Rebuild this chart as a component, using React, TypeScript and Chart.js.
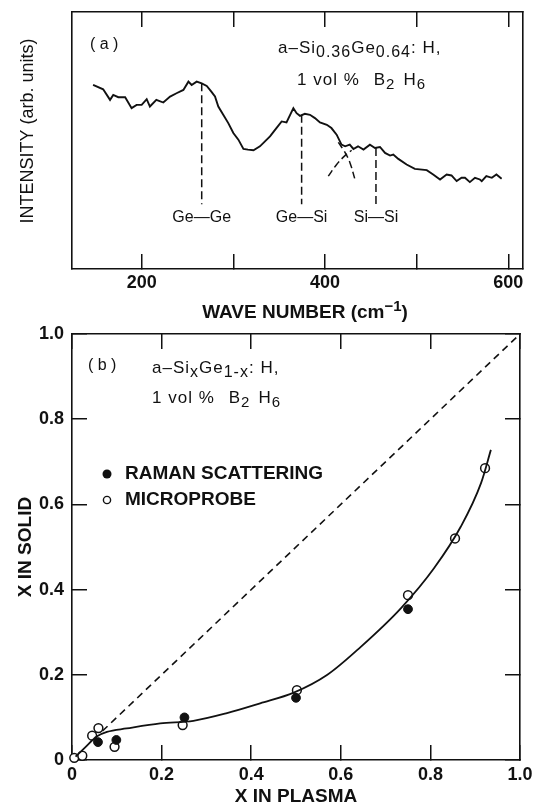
import React, { useEffect, useRef } from "react";
import { Chart, registerables } from "chart.js";

Chart.register(...registerables);

// ---------- Panel (a): Raman spectrum ----------
const waveNumber = [
  147, 158, 165.5, 169, 174.5, 182, 189, 194.5, 200, 205.5, 209, 216, 223.6, 231, 238, 245.5, 251, 254.5,
  260, 265.5, 271, 276, 280, 283.6, 289, 294.5, 300, 305.5, 311, 316, 322, 329, 334.5, 340, 347, 352.7,
  358, 365.5, 369, 372.7, 378, 383.6, 389, 394.5, 402, 407, 412.7, 418, 422, 427, 431, 436, 442, 449,
  454.5, 460, 465.5, 471, 474.5, 480, 489, 498, 511, 518, 525.5, 532.7, 538, 543.6, 549, 552.7, 558,
  563.6, 569, 571, 576, 582, 587, 592.7,
];
const intensity = [
  55.5, 54.2, 51, 52.5, 51.8, 51.8, 48.5, 49.5, 49.5, 51.2, 49, 51, 50.2, 52, 53, 54, 56.5, 55.5,
  56.5, 56, 55.2, 53.5, 52, 49, 46.5, 44, 41, 39, 36.2, 36, 35.8, 37, 38.5, 40, 42.5, 44.5,
  44.2, 48.5, 47, 46.2, 46.8, 46.5, 45.5, 44.2, 43.5, 42.5, 40.5, 37.5, 37, 37.5, 36.2, 37, 36, 37.5,
  36.5, 36.8, 35, 34.2, 34.5, 33.2, 31.5, 30.2, 29.8, 28.5, 27, 28.5, 28.2, 26.5, 27.5, 27.5, 26.2,
  27.5, 27, 26.5, 28, 27.5, 28.5, 27.2,
];
const peakNames = ["Ge\u2014Ge", "Ge\u2014Si", "Si\u2014Si"];
const peakWave = [265.5, 374.5, 455.6];
const peakTop = [56, 46.5, 36.5];
const peakLineBottom = 19.5;
const siShoulderX = [403.6, 412.7, 421.8, 429];
const siShoulderY = [28, 31.5, 34.2, 35.8];
const geSiShoulderX = [414.5, 421.8, 427.3, 432.7];
const geSiShoulderY = [38.2, 35.2, 32, 27];
const waveTicks = [200, 300, 400, 500, 600];
const waveTickLabels = ["200", "", "400", "", "600"];
const waveMin = 124;
const waveMax = 616;
const intensityMin = 0;
const intensityMax = 77.5;

// ---------- Panel (b): composition ----------
const ramanX = [0.058, 0.099, 0.251, 0.5, 0.75];
const ramanY = [0.042, 0.047, 0.1, 0.146, 0.354];
const probeX = [0.005, 0.023, 0.045, 0.059, 0.095, 0.247, 0.502, 0.75, 0.855, 0.922];
const probeY = [0.005, 0.01, 0.057, 0.075, 0.031, 0.082, 0.164, 0.387, 0.52, 0.685];
const fitX = [0.008, 0.03, 0.055, 0.078, 0.122, 0.197, 0.271, 0.346, 0.42, 0.495, 0.57, 0.644, 0.734, 0.808, 0.868, 0.913, 0.935];
const fitY = [0.008, 0.03, 0.055, 0.066, 0.074, 0.086, 0.092, 0.11, 0.133, 0.158, 0.2, 0.265, 0.356, 0.45, 0.548, 0.65, 0.728];
const equalX = [0.068, 1.0];
const equalY = [0.068, 1.0];
const fracTicks = [0, 0.2, 0.4, 0.6, 0.8, 1.0];
const fracTickLabels = ["0", "0.2", "0.4", "0.6", "0.8", "1.0"];

const FAMILY = '"Liberation Sans", Arial, Helvetica, sans-serif';
const INK = "#111";

type Seg = { t?: string; sub?: boolean; sup?: boolean; gap?: number };

function drawRich(
  ctx: CanvasRenderingContext2D,
  segs: Seg[],
  x: number,
  y: number,
  size: number,
  smallSize: number,
  shift: number,
  weight = "normal",
  spacing = "1px"
) {
  let cx = x;
  (ctx as any).letterSpacing = spacing;
  ctx.textAlign = "left";
  ctx.textBaseline = "middle";
  for (const s of segs) {
    if (s.gap) {
      cx += s.gap;
      continue;
    }
    const small = s.sub || s.sup;
    ctx.font = `${weight} ${small ? smallSize : size}px ${FAMILY}`;
    const dy = s.sub ? shift : s.sup ? -shift : 0;
    ctx.fillText(s.t || "", cx, y + dy);
    cx += ctx.measureText(s.t || "").width;
  }
  (ctx as any).letterSpacing = "0px";
}

const pts = (xs: number[], ys: number[]) => xs.map((x, i) => ({ x, y: ys[i] }));

const tickGrid = { drawOnChartArea: false, drawTicks: true, tickLength: -15, color: INK, lineWidth: 1.5 };
const noTickGrid = { drawOnChartArea: false, drawTicks: false, color: INK, lineWidth: 1.5 };
const frame = { display: true, color: INK, width: 1.6 };
const tickFont = { family: FAMILY, size: 18, weight: "bold" as const, lineHeight: 1 };

const fixSize = (key: "width" | "height", v: number) => (s: any) => {
  s[key] = v;
  s.paddingLeft = 0;
  s.paddingRight = 0;
  s.paddingTop = 0;
  s.paddingBottom = 0;
};

const A_HEIGHT = 326;
const B_TOP = 316;
const B_HEIGHT = 806 - B_TOP;

function configA(): any {
  const annotations = {
    id: "annotationsA",
    afterDraw(chart: any) {
      const { ctx, chartArea: ca, scales } = chart;
      ctx.save();
      ctx.fillStyle = INK;
      drawRich(ctx, [{ t: "( a )" }], ca.left + 18, ca.top + 33, 16, 16, 0, "normal", "0px");
      drawRich(
        ctx,
        [{ t: "a\u2013Si" }, { t: "0.36", sub: true }, { t: "Ge" }, { t: "0.64", sub: true }, { t: ": H," }],
        ca.left + 206,
        ca.top + 36,
        17,
        16,
        5
      );
      drawRich(
        ctx,
        [{ t: "1 vol %" }, { gap: 14 }, { t: "B" }, { t: "2", sub: true }, { gap: 8 }, { t: "H" }, { t: "6", sub: true }],
        ca.left + 225,
        ca.top + 68,
        17,
        15,
        5
      );
      ctx.font = `normal 16px ${FAMILY}`;
      ctx.textAlign = "center";
      ctx.textBaseline = "middle";
      peakNames.forEach((name, i) => {
        ctx.fillText(name, scales.x.getPixelForValue(peakWave[i]), ca.bottom - 51);
      });
      // y title
      ctx.save();
      ctx.translate(28, ca.top + 119);
      ctx.rotate(-Math.PI / 2);
      ctx.font = `normal 18px ${FAMILY}`;
      ctx.textAlign = "center";
      ctx.textBaseline = "middle";
      ctx.fillText("INTENSITY (arb. units)", 0, 0);
      ctx.restore();
      // x title with superscript
      const segs: Seg[] = [{ t: "WAVE NUMBER (cm" }, { t: "\u22121", sup: true }, { t: ")" }];
      let w = 0;
      for (const s of segs) {
        ctx.font = `bold ${s.sup ? 15 : 19}px ${FAMILY}`;
        w += ctx.measureText(s.t || "").width;
      }
      drawRich(ctx, segs, 305 - w / 2, ca.bottom + 44, 19, 15, 6, "bold", "0px");
      ctx.restore();
    },
  };
  const datasets: any[] = [
    {
      data: pts(waveNumber, intensity),
      borderColor: INK,
      borderWidth: 1.9,
      pointRadius: 0,
      tension: 0,
    },
    ...peakWave.map((w, i) => ({
      data: [
        { x: w, y: peakTop[i] },
        { x: w, y: peakLineBottom },
      ],
      borderColor: INK,
      borderWidth: 1.5,
      borderDash: [8, 4],
      pointRadius: 0,
    })),
    {
      data: pts(siShoulderX, siShoulderY),
      borderColor: INK,
      borderWidth: 1.5,
      borderDash: [7, 4],
      pointRadius: 0,
      tension: 0.4,
    },
    {
      data: pts(geSiShoulderX, geSiShoulderY),
      borderColor: INK,
      borderWidth: 1.5,
      borderDash: [7, 4],
      pointRadius: 0,
      tension: 0.4,
    },
  ];
  const setTicks = (s: any) => {
    s.ticks = waveTicks.map((v) => ({ value: v }));
  };
  return {
    type: "line",
    data: { datasets },
    options: {
      responsive: false,
      animation: false,
      devicePixelRatio: 1,
      layout: { padding: { top: 12, right: 12, left: 0, bottom: 0 } },
      plugins: { legend: { display: false }, tooltip: { enabled: false } },
      scales: {
        x: {
          type: "linear",
          position: "bottom",
          min: waveMin,
          max: waveMax,
          bounds: "data",
          afterBuildTicks: setTicks,
          afterFit: fixSize("height", A_HEIGHT - 269),
          ticks: {
            autoSkip: false,
            maxRotation: 0,
            color: INK,
            font: tickFont,
            padding: 20,
            callback: (_v: any, i: number) => waveTickLabels[i],
          },
          grid: tickGrid,
          border: frame,
        },
        xTop: {
          type: "linear",
          position: "top",
          min: waveMin,
          max: waveMax,
          bounds: "data",
          afterBuildTicks: setTicks,
          afterFit: fixSize("height", 0),
          ticks: { display: false },
          grid: tickGrid,
          border: frame,
        },
        y: {
          type: "linear",
          position: "left",
          min: intensityMin,
          max: intensityMax,
          afterFit: fixSize("width", 72),
          ticks: { display: false },
          grid: noTickGrid,
          border: frame,
        },
        yRight: {
          type: "linear",
          position: "right",
          min: intensityMin,
          max: intensityMax,
          afterFit: fixSize("width", 0),
          ticks: { display: false },
          grid: noTickGrid,
          border: frame,
        },
      },
    },
    plugins: [annotations],
  };
}

function configB(): any {
  const annotations = {
    id: "annotationsB",
    afterDraw(chart: any) {
      const { ctx, chartArea: ca } = chart;
      ctx.save();
      ctx.fillStyle = INK;
      ctx.strokeStyle = INK;
      drawRich(ctx, [{ t: "( b )" }], ca.left + 16, ca.top + 32, 16, 16, 0, "normal", "0px");
      drawRich(
        ctx,
        [{ t: "a\u2013Si" }, { t: "x", sub: true }, { t: "Ge" }, { t: "1-x", sub: true }, { t: ": H," }],
        ca.left + 80,
        ca.top + 34,
        17,
        16,
        5
      );
      drawRich(
        ctx,
        [{ t: "1 vol %" }, { gap: 14 }, { t: "B" }, { t: "2", sub: true }, { gap: 8 }, { t: "H" }, { t: "6", sub: true }],
        ca.left + 80,
        ca.top + 64,
        17,
        15,
        5
      );
      // legend
      ctx.beginPath();
      ctx.arc(ca.left + 35, ca.top + 140, 4.5, 0, Math.PI * 2);
      ctx.fill();
      ctx.beginPath();
      ctx.lineWidth = 1.4;
      ctx.arc(ca.left + 35, ca.top + 166, 3.6, 0, Math.PI * 2);
      ctx.stroke();
      ctx.font = `bold 19px ${FAMILY}`;
      ctx.textAlign = "left";
      ctx.textBaseline = "middle";
      ctx.fillText("RAMAN SCATTERING", ca.left + 53, ca.top + 140);
      ctx.fillText("MICROPROBE", ca.left + 53, ca.top + 166);
      ctx.restore();
    },
  };
  const setTicks = (s: any) => {
    s.ticks = fracTicks.map((v) => ({ value: v }));
  };
  const titleFont = { family: FAMILY, size: 19, weight: "bold" as const, lineHeight: 1 };
  return {
    type: "line",
    data: {
      datasets: [
        {
          data: pts(equalX, equalY),
          borderColor: INK,
          borderWidth: 1.6,
          borderDash: [7, 5],
          pointRadius: 0,
        },
        {
          data: pts(fitX, fitY),
          borderColor: INK,
          borderWidth: 1.8,
          pointRadius: 0,
          cubicInterpolationMode: "monotone",
        },
        {
          data: pts(ramanX, ramanY),
          showLine: false,
          pointRadius: 4.4,
          pointBackgroundColor: INK,
          pointBorderColor: INK,
          pointBorderWidth: 1,
          clip: false,
        },
        {
          data: pts(probeX, probeY),
          showLine: false,
          pointRadius: 4.4,
          pointBackgroundColor: "#fff",
          pointBorderColor: INK,
          pointBorderWidth: 1.5,
          clip: false,
        },
      ],
    },
    options: {
      responsive: false,
      animation: false,
      devicePixelRatio: 1,
      layout: { padding: { top: 334 - B_TOP, right: 15, left: 0, bottom: 0 } },
      plugins: { legend: { display: false }, tooltip: { enabled: false } },
      scales: {
        x: {
          type: "linear",
          position: "bottom",
          min: 0,
          max: 1,
          bounds: "data",
          afterBuildTicks: setTicks,
          afterFit: fixSize("height", 806 - 760),
          ticks: {
            autoSkip: false,
            maxRotation: 0,
            color: INK,
            font: tickFont,
            padding: 21,
            callback: (_v: any, i: number) => fracTickLabels[i],
          },
          title: {
            display: true,
            text: "X IN PLASMA",
            color: INK,
            font: titleFont,
            padding: { top: 0, bottom: 0 },
          },
          grid: tickGrid,
          border: frame,
        },
        xTop: {
          type: "linear",
          position: "top",
          min: 0,
          max: 1,
          bounds: "data",
          afterBuildTicks: setTicks,
          afterFit: fixSize("height", 0),
          ticks: { display: false },
          grid: tickGrid,
          border: frame,
        },
        y: {
          type: "linear",
          position: "left",
          min: 0,
          max: 1,
          bounds: "data",
          afterBuildTicks: setTicks,
          afterFit: fixSize("width", 72),
          ticks: {
            autoSkip: false,
            color: INK,
            font: tickFont,
            padding: 23,
            callback: (_v: any, i: number) => fracTickLabels[i],
          },
          title: {
            display: true,
            text: "X IN SOLID",
            color: INK,
            font: titleFont,
            padding: { top: 16, bottom: 0 },
          },
          grid: tickGrid,
          border: frame,
        },
        yRight: {
          type: "linear",
          position: "right",
          min: 0,
          max: 1,
          bounds: "data",
          afterBuildTicks: setTicks,
          afterFit: fixSize("width", 0),
          ticks: { display: false },
          grid: tickGrid,
          border: frame,
        },
      },
    },
    plugins: [annotations],
  };
}

export default function App() {
  const refA = useRef<HTMLCanvasElement>(null);
  const refB = useRef<HTMLCanvasElement>(null);
  useEffect(() => {
    document.body.style.margin = "0";
    const a = new Chart(refA.current as HTMLCanvasElement, configA());
    const b = new Chart(refB.current as HTMLCanvasElement, configB());
    return () => {
      a.destroy();
      b.destroy();
    };
  }, []);
  return (
    <div style={{ position: "relative", width: 535, height: 806, background: "#fff", overflow: "hidden" }}>
      <canvas ref={refA} width={535} height={A_HEIGHT} style={{ position: "absolute", left: 0, top: 0 }} />
      <canvas ref={refB} width={535} height={B_HEIGHT} style={{ position: "absolute", left: 0, top: B_TOP }} />
    </div>
  );
}
